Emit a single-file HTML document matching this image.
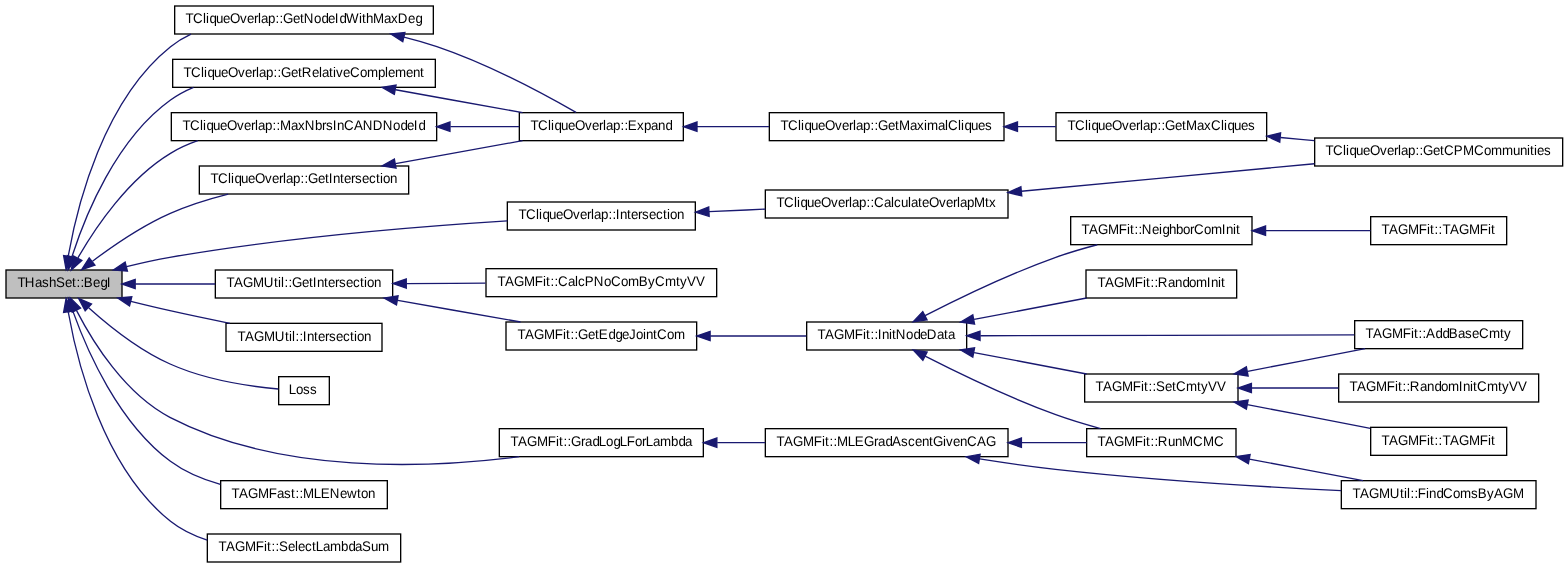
<!DOCTYPE html>
<html lang="en">
<head>
<meta charset="utf-8">
<title>THashSet::BegI</title>
<style>
html,body{margin:0;padding:0;background:#fff;}
body{width:1568px;height:568px;overflow:hidden;}
svg{display:block;will-change:transform;}
svg text{font-family:"Liberation Sans",sans-serif;font-size:10px;fill:#000;text-rendering:geometricPrecision;}
</style>
</head>
<body>
<svg width="1568" height="568" viewBox="0 0 1176 426">
<rect x="0" y="0" width="1176" height="426" fill="#ffffff"/>
<g transform="translate(4 422)">
<rect x="0.5" y="-219.5" width="87" height="21" fill="#bfbfbf" stroke="#000" stroke-width="1"/>
<rect x="127" y="-417.5" width="194" height="21" fill="white" stroke="#000" stroke-width="1"/>
<path d="M47.22,-230.19C53.94,-267.96 73.49,-346.73 123.93,-387.00 128.60,-390.73 133.79,-393.82 139.27,-396.38" fill="none" stroke="#191970" stroke-width="1"/>
<polygon points="50.61,-229.19 45.57,-219.87 43.70,-230.30 50.61,-229.19" fill="#191970" stroke="#191970" stroke-width="1"/>
<rect x="125.5" y="-377.5" width="197" height="21" fill="white" stroke="#000" stroke-width="1"/>
<path d="M49.90,-229.31C59.76,-259.95 82.81,-317.52 123.90,-347.00 129.20,-350.80 135.04,-353.91 141.16,-356.47" fill="none" stroke="#191970" stroke-width="1"/>
<polygon points="53.23,-228.26 47.00,-219.69 46.53,-230.27 53.23,-228.26" fill="#191970" stroke="#191970" stroke-width="1"/>
<rect x="124.5" y="-337.5" width="199" height="21" fill="white" stroke="#000" stroke-width="1"/>
<path d="M54.44,-228.62C67.48,-251.26 92.07,-287.83 123.86,-307.00 130.20,-310.82 137.14,-313.93 144.32,-316.45" fill="none" stroke="#191970" stroke-width="1"/>
<polygon points="57.36,-226.67 49.48,-219.59 51.22,-230.04 57.36,-226.67" fill="#191970" stroke="#191970" stroke-width="1"/>
<rect x="145.5" y="-297.5" width="157" height="21" fill="white" stroke="#000" stroke-width="1"/>
<path d="M65.38,-226.09C80.78,-237.71 102.52,-252.62 123.72,-262.00 137.33,-268.02 152.66,-272.78 167.14,-276.45" fill="none" stroke="#191970" stroke-width="1"/>
<polygon points="67.21,-223.08 57.17,-219.69 62.91,-228.60 67.21,-223.08" fill="#191970" stroke="#191970" stroke-width="1"/>
<rect x="376.5" y="-270.5" width="141" height="21" fill="white" stroke="#000" stroke-width="1"/>
<path d="M90.93,-222.05C101.53,-224.66 112.79,-227.17 123.38,-229.00 209.91,-243.99 310.85,-252.22 376.50,-256.37" fill="none" stroke="#191970" stroke-width="1"/>
<polygon points="91.58,-218.61 81.03,-219.53 89.85,-225.39 91.58,-218.61" fill="#191970" stroke="#191970" stroke-width="1"/>
<rect x="157.5" y="-219.5" width="133" height="21" fill="white" stroke="#000" stroke-width="1"/>
<path d="M97.44,-209.00C116.27,-209.00 137.64,-209.00 157.38,-209.00" fill="none" stroke="#191970" stroke-width="1"/>
<polygon points="97.39,-205.50 87.39,-209.00 97.39,-212.50 97.39,-205.50" fill="#191970" stroke="#191970" stroke-width="1"/>
<rect x="165.5" y="-179.5" width="117" height="21" fill="white" stroke="#000" stroke-width="1"/>
<path d="M94.14,-195.97C103.88,-193.56 113.99,-191.14 123.52,-189.00 138.03,-185.73 153.80,-182.46 168.43,-179.53" fill="none" stroke="#191970" stroke-width="1"/>
<polygon points="93.14,-192.61 84.30,-198.45 94.85,-199.40 93.14,-192.61" fill="#191970" stroke="#191970" stroke-width="1"/>
<rect x="205" y="-139.5" width="38" height="21" fill="white" stroke="#000" stroke-width="1"/>
<path d="M62.48,-191.25C77.66,-177.62 100.41,-159.41 123.58,-149.00 150.24,-137.01 184.18,-132.16 204.73,-130.23" fill="none" stroke="#191970" stroke-width="1"/>
<polygon points="59.86,-188.90 54.92,-198.27 64.63,-194.03 59.86,-188.90" fill="#191970" stroke="#191970" stroke-width="1"/>
<rect x="370.5" y="-100.5" width="153" height="21" fill="white" stroke="#000" stroke-width="1"/>
<path d="M53.34,-189.24C65.59,-165.46 89.70,-126.54 123.43,-109.00 206.19,-65.96 317.55,-70.81 385.46,-79.50" fill="none" stroke="#191970" stroke-width="1"/>
<polygon points="50.11,-187.88 48.85,-198.40 56.40,-190.96 50.11,-187.88" fill="#191970" stroke="#191970" stroke-width="1"/>
<rect x="161.5" y="-61.5" width="125" height="21" fill="white" stroke="#000" stroke-width="1"/>
<path d="M50.57,-188.83C61.07,-159.40 84.69,-105.04 123.82,-76.00 134.75,-67.89 148.02,-62.39 161.27,-58.67" fill="none" stroke="#191970" stroke-width="1"/>
<polygon points="47.21,-187.86 47.34,-198.45 53.84,-190.09 47.21,-187.86" fill="#191970" stroke="#191970" stroke-width="1"/>
<rect x="151.5" y="-21.5" width="145" height="21" fill="white" stroke="#000" stroke-width="1"/>
<path d="M47.22,-187.81C53.93,-150.04 73.46,-71.27 123.88,-31.00 131.92,-24.58 141.47,-20.05 151.43,-16.88" fill="none" stroke="#191970" stroke-width="1"/>
<polygon points="43.70,-187.70 45.57,-198.13 50.61,-188.81 43.70,-187.70" fill="#191970" stroke="#191970" stroke-width="1"/>
<rect x="385.5" y="-337.5" width="123" height="21" fill="white" stroke="#000" stroke-width="1"/>
<path d="M298.98,-394.14C307.39,-392.06 315.78,-389.68 323.67,-387.00 362.44,-373.84 404.70,-351.06 428.03,-337.68" fill="none" stroke="#191970" stroke-width="1"/>
<polygon points="298.08,-390.76 289.15,-396.47 299.69,-397.57 298.08,-390.76" fill="#191970" stroke="#191970" stroke-width="1"/>
<rect x="573" y="-337.5" width="176" height="21" fill="white" stroke="#000" stroke-width="1"/>
<path d="M518.76,-327C536.07,-327 554.8,-327 572.78,-327" fill="none" stroke="#191970" stroke-width="1"/>
<polygon points="518.75,-323.5 508.75,-327 518.75,-330.5 518.75,-323.5" fill="#191970" stroke="#191970" stroke-width="1"/>
<rect x="788" y="-337.5" width="158" height="21" fill="white" stroke="#000" stroke-width="1"/>
<path d="M759.12,-327C768.77,-327 778.48,-327 787.89,-327" fill="none" stroke="#191970" stroke-width="1"/>
<polygon points="759.11,-323.5 749.11,-327 759.11,-330.5 759.11,-323.5" fill="#191970" stroke="#191970" stroke-width="1"/>
<rect x="982" y="-318.5" width="186" height="21" fill="white" stroke="#000" stroke-width="1"/>
<path d="M956.34,-318.85C964.74,-318.08 973.27,-317.29 981.71,-316.51" fill="none" stroke="#191970" stroke-width="1"/>
<polygon points="955.81,-315.39 946.17,-319.79 956.45,-322.36 955.81,-315.39" fill="#191970" stroke="#191970" stroke-width="1"/>
<path d="M292.65,-354.67C323.16,-349.17 358.72,-342.77 387.94,-337.51" fill="none" stroke="#191970" stroke-width="1"/>
<polygon points="291.78,-351.27 282.57,-356.49 293.03,-358.15 291.78,-351.27" fill="#191970" stroke="#191970" stroke-width="1"/>
<path d="M333.80,-327.00C351.58,-327.00 369.39,-327.00 385.45,-327.00" fill="none" stroke="#191970" stroke-width="1"/>
<polygon points="333.49,-323.50 323.49,-327.00 333.49,-330.50 333.49,-323.50" fill="#191970" stroke="#191970" stroke-width="1"/>
<path d="M292.65,-299.33C323.16,-304.83 358.72,-311.23 387.94,-316.49" fill="none" stroke="#191970" stroke-width="1"/>
<polygon points="293.03,-295.85 282.57,-297.51 291.78,-302.73 293.03,-295.85" fill="#191970" stroke="#191970" stroke-width="1"/>
<rect x="570" y="-279.5" width="182" height="21" fill="white" stroke="#000" stroke-width="1"/>
<path d="M527.7,-263.27C541.7,-263.9 555.9,-264.5 570,-265.15" fill="none" stroke="#191970" stroke-width="1"/>
<polygon points="527.86,-259.77 517.7,-262.8 527.54,-266.77 527.86,-259.77" fill="#191970" stroke="#191970" stroke-width="1"/>
<path d="M762,-278.55C829,-284.9 917,-293.1 981.9,-299.2" fill="none" stroke="#191970" stroke-width="1"/>
<polygon points="762.33,-275.07 752,-277.6 761.67,-282.03 762.33,-275.07" fill="#191970" stroke="#191970" stroke-width="1"/>
<rect x="360.5" y="-220.5" width="173" height="21" fill="white" stroke="#000" stroke-width="1"/>
<path d="M300.77,-209.34C319.91,-209.43 340.55,-209.52 360.15,-209.61" fill="none" stroke="#191970" stroke-width="1"/>
<polygon points="300.72,-205.84 290.71,-209.3 300.69,-212.84 300.72,-205.84" fill="#191970" stroke="#191970" stroke-width="1"/>
<rect x="375.5" y="-180.5" width="143" height="21" fill="white" stroke="#000" stroke-width="1"/>
<path d="M294.33,-196.70C323.91,-191.50 358.00,-185.51 386.38,-180.52" fill="none" stroke="#191970" stroke-width="1"/>
<polygon points="293.35,-193.31 284.11,-198.50 294.57,-200.21 293.35,-193.31" fill="#191970" stroke="#191970" stroke-width="1"/>
<rect x="601" y="-180.5" width="120" height="21" fill="white" stroke="#000" stroke-width="1"/>
<path d="M528.72,-170C552.64,-170 578.38,-170 600.68,-170" fill="none" stroke="#191970" stroke-width="1"/>
<polygon points="528.59,-166.5 518.59,-170 528.59,-173.5 528.59,-166.5" fill="#191970" stroke="#191970" stroke-width="1"/>
<rect x="799" y="-259.5" width="136" height="21" fill="white" stroke="#000" stroke-width="1"/>
<path d="M689.81,-185.26C715.09,-198.22 753.16,-216.63 787.83,-229.00 797.75,-232.54 808.59,-235.72 818.96,-238.45" fill="none" stroke="#191970" stroke-width="1"/>
<polygon points="691.33,-182.10 680.84,-180.58 688.09,-188.31 691.33,-182.10" fill="#191970" stroke="#191970" stroke-width="1"/>
<rect x="810.5" y="-219.5" width="113" height="21" fill="white" stroke="#000" stroke-width="1"/>
<path d="M726.58,-182.44C753.75,-187.61 784.96,-193.53 810.97,-198.48" fill="none" stroke="#191970" stroke-width="1"/>
<polygon points="726.92,-178.94 716.44,-180.50 725.60,-185.82 726.92,-178.94" fill="#191970" stroke="#191970" stroke-width="1"/>
<rect x="1012" y="-181.5" width="126" height="21" fill="white" stroke="#000" stroke-width="1"/>
<path d="M731.29,-170.17C809.71,-170.36 936.31,-170.67 1011.71,-170.85" fill="none" stroke="#191970" stroke-width="1"/>
<polygon points="731.04,-166.67 721.03,-170.14 731.02,-173.67 731.04,-166.67" fill="#191970" stroke="#191970" stroke-width="1"/>
<rect x="809.5" y="-141.5" width="115" height="21" fill="white" stroke="#000" stroke-width="1"/>
<path d="M726.58,-157.56C753.75,-152.39 784.96,-146.47 810.97,-141.52" fill="none" stroke="#191970" stroke-width="1"/>
<polygon points="725.60,-154.18 716.44,-159.50 726.92,-161.06 725.60,-154.18" fill="#191970" stroke="#191970" stroke-width="1"/>
<rect x="811" y="-100.5" width="112" height="21" fill="white" stroke="#000" stroke-width="1"/>
<path d="M689.85,-154.85C715.15,-141.95 753.22,-123.57 787.81,-111.00 798.54,-107.10 810.34,-103.57 821.44,-100.56" fill="none" stroke="#191970" stroke-width="1"/>
<polygon points="688.14,-151.79 680.87,-159.50 691.36,-158.01 688.14,-151.79" fill="#191970" stroke="#191970" stroke-width="1"/>
<rect x="1024" y="-259.5" width="102" height="21" fill="white" stroke="#000" stroke-width="1"/>
<path d="M945.48,-249C971.74,-249 1000.35,-249 1023.91,-249" fill="none" stroke="#191970" stroke-width="1"/>
<polygon points="945.17,-245.5 935.17,-249 945.17,-252.5 945.17,-245.5" fill="#191970" stroke="#191970" stroke-width="1"/>
<path d="M931.76,-143.48C960.05,-148.94 992.87,-155.28 1019.88,-160.49" fill="none" stroke="#191970" stroke-width="1"/>
<polygon points="932.11,-139.98 921.62,-141.51 930.77,-146.85 932.11,-139.98" fill="#191970" stroke="#191970" stroke-width="1"/>
<rect x="1000" y="-141.5" width="150" height="21" fill="white" stroke="#000" stroke-width="1"/>
<path d="M934.58,-131C955.39,-131 978.49,-131 999.79,-131" fill="none" stroke="#191970" stroke-width="1"/>
<polygon points="934.56,-127.5 924.56,-131 934.56,-134.5 934.56,-127.5" fill="#191970" stroke="#191970" stroke-width="1"/>
<rect x="1024" y="-101.5" width="102" height="21" fill="white" stroke="#000" stroke-width="1"/>
<path d="M931.44,-118.58C961.17,-112.84 995.97,-106.12 1023.77,-100.75" fill="none" stroke="#191970" stroke-width="1"/>
<polygon points="930.77,-115.15 921.62,-120.49 932.11,-122.02 930.77,-115.15" fill="#191970" stroke="#191970" stroke-width="1"/>
<rect x="1002" y="-61.5" width="146" height="21" fill="white" stroke="#000" stroke-width="1"/>
<path d="M932.99,-77.68C960.40,-72.49 991.97,-66.52 1018.29,-61.55" fill="none" stroke="#191970" stroke-width="1"/>
<polygon points="932.28,-74.25 923.10,-79.55 933.58,-81.13 932.28,-74.25" fill="#191970" stroke="#191970" stroke-width="1"/>
<rect x="570" y="-100.5" width="182" height="21" fill="white" stroke="#000" stroke-width="1"/>
<path d="M533.94,-90C545.79,-90 557.98,-90 569.9,-90" fill="none" stroke="#191970" stroke-width="1"/>
<polygon points="533.64,-86.5 523.64,-90 533.64,-93.5 533.64,-86.5" fill="#191970" stroke="#191970" stroke-width="1"/>
<path d="M762.46,-90C779.17,-90 795.95,-90 810.98,-90" fill="none" stroke="#191970" stroke-width="1"/>
<polygon points="762.07,-86.5 752.07,-90 762.07,-93.5 762.07,-86.5" fill="#191970" stroke="#191970" stroke-width="1"/>
<path d="M730.70,-77.85C749.14,-74.94 769.09,-72.08 787.61,-70.00 860.31,-61.85 943.81,-56.80 1001.85,-53.97" fill="none" stroke="#191970" stroke-width="1"/>
<polygon points="729.96,-74.43 720.64,-79.47 731.07,-81.34 729.96,-74.43" fill="#191970" stroke="#191970" stroke-width="1"/>
</g>
<g transform="translate(4 422) scale(1 1.045)">
<text x="9.125 14.562 22.25 27.5 32.75 38 44.75 50 53.375 56.375 58.812 65.75 71.375 76.062" y="-197.847">THashSet::BegI</text>
<text x="135.125 140.75 148.25 150.5 153.125 158 163.25 168.5 176 181.25 186.5 189.5 191.75 197 202.625 205.625 208.25 215.75 221 223.812 231.5 237.125 242 247.062 250.625 255.5 265.25 267.5 270.5 275.75 284 289.25 294.312 302 307.625" y="-387.321">TCliqueOverlap::GetNodeIdWithMaxDeg</text>
<text x="133.625 139.25 146.75 149 151.625 156.5 161.75 167 174.5 179.75 185 188 190.25 195.5 201.125 204.125 206.75 214.25 219.5 222.312 230 235.25 237.5 242.75 245.75 248 253.25 258.5 266 271.25 279.5 284.75 287 292.25 300.5 305.75 311" y="-348.565">TCliqueOverlap::GetRelativeComplement</text>
<text x="132.875 138.5 146 148.25 150.875 155.75 161 166.25 173.75 179 184.25 187.25 189.5 194.75 200.375 203.375 206 214.25 219.5 224.562 232.25 237.5 240.5 245.562 248.75 254 261.5 268.062 275.562 283.062 290.75 296.375 301.25 306.312 309.875" y="-310.526">TCliqueOverlap::MaxNbrsInCANDNodeId</text>
<text x="153.875 159.5 167 169.25 171.875 176.75 182 187.25 194.75 200 205.25 208.25 210.5 215.75 221.375 224.375 227 234.5 239.75 242.562 245.75 251 254 259.25 262.25 267.5 272.75 278 281 283.25 288.5" y="-272.488">TCliqueOverlap::GetIntersection</text>
<text x="384.875 390.5 398 400.25 402.875 407.75 413 418.25 425.75 431 436.25 439.25 441.5 446.75 452.375 455.375 457.812 461 466.25 469.25 474.5 477.5 482.75 488 493.25 496.25 498.5 503.75" y="-246.651">TCliqueOverlap::Intersection</text>
<text x="165.875 171.5 178.25 185.75 193.812 201.5 204.5 206.75 209.375 212.375 215 222.5 227.75 230.562 233.75 239 242 247.25 250.25 255.5 260.75 266 269 271.25 276.5" y="-197.847">TAGMUtil::GetIntersection</text>
<text x="174.125 179.75 186.5 194 202.062 209.75 212.75 215 217.625 220.625 223.062 226.25 231.5 234.5 239.75 242.75 248 253.25 258.5 261.5 263.75 269" y="-159.091">TAGMUtil::Intersection</text>
<text x="212.562 218 223.25 228.5" y="-121.053">Loss</text>
<text x="378.875 384.5 391.25 398.75 406.812 413 415.25 418.625 421.625 424.25 431.75 434.75 440.375 445.062 450.5 456.125 460.812 466.062 472.25 477.5 480.312 485.75 491 499.25 504.875 509.75" y="-83.732">TAGMFit::GradLogLForLambda</text>
<text x="169.625 175.25 182 189.5 197.562 203.75 209 214.25 217.625 220.625 223.25 231.312 236.562 243.312 251 256.25 263.75 266.75 272" y="-46.411">TAGMFast::MLENewton</text>
<text x="159.875 165.5 172.25 179.75 187.812 194 196.25 199.625 202.625 205.25 212 217.25 219.5 224.75 230 232.812 238.25 243.5 251.75 257.375 262.25 267.5 274.25 279.5" y="-8.373">TAGMFit::SelectLambdaSum</text>
<text x="393.875 399.5 407 409.25 411.875 416.75 422 427.25 434.75 440 445.25 448.25 450.5 455.75 461.375 464.375 466.812 473.75 479 484.25 489.5 495.125" y="-310.526">TCliqueOverlap::Expand</text>
<text x="581.375 587 594.5 596.75 599.375 604.25 609.5 614.75 622.25 627.5 632.75 635.75 638 643.25 648.875 651.875 654.5 662 667.25 670.25 678.5 683.75 689 691.25 699.5 704.75 707 714.5 716.75 719.375 724.25 729.5 734.75" y="-310.526">TCliqueOverlap::GetMaximalCliques</text>
<text x="796.625 802.25 809.75 812 814.625 819.5 824.75 830 837.5 842.75 848 851 853.25 858.5 864.125 867.125 869.75 877.25 882.5 885.5 893.75 899 904.25 911.75 914 916.625 921.5 926.75 932" y="-310.526">TCliqueOverlap::GetMaxCliques</text>
<text x="990.125 995.75 1003.25 1005.5 1008.125 1013 1018.25 1023.5 1031 1036.25 1041.5 1044.5 1046.75 1052 1057.625 1060.625 1063.25 1070.75 1076 1079 1086.312 1093.25 1101.5 1109 1114.25 1122.5 1130.75 1136 1141.25 1143.5 1146.5 1148.75 1154" y="-292.584">TCliqueOverlap::GetCPMCommunities</text>
<text x="578.375 584 591.5 593.75 596.375 601.25 606.5 611.75 619.25 624.5 629.75 632.75 635 640.25 645.875 648.875 651.5 659 664.25 666.5 671.75 677 679.25 684.5 687.5 692.75 700.25 705.5 710.75 713.75 716 721.25 726.5 734.75 737.75" y="-255.263">TCliqueOverlap::CalculateOverlapMtx</text>
<text x="369.125 374.75 381.5 389 397.062 403.25 405.5 408.875 411.875 414.5 422 427.25 429.5 434.562 441.312 449 454.25 461.75 467 475.062 482 487.25 494.75 503 506 511.25 518" y="-198.565">TAGMFit::CalcPNoComByCmtyVV</text>
<text x="384.125 389.75 396.5 404 412.062 418.25 420.5 423.875 426.875 429.5 437 442.25 445.062 452.375 457.625 462.5 467.75 473 478.25 480.5 485.75 488.75 496.25 501.5" y="-160.526">TAGMFit::GetEdgeJointCom</text>
<text x="609.125 614.75 621.5 629 637.062 643.25 645.5 648.875 651.875 654.312 657.5 662.75 665 667.812 675.5 681.125 686 691.062 698.75 704 707" y="-160.526">TAGMFit::InitNodeData</text>
<text x="807.125 812.75 819.5 827 835.062 841.25 843.5 846.875 849.875 852.312 860 865.25 867.875 872.75 878 883.25 888.5 891.5 899 904.25 912.312 915.5 920.75 923" y="-235.885">TAGMFit::NeighborComInit</text>
<text x="819.125 824.75 831.5 839 847.062 853.25 855.5 858.875 861.875 864.312 872 877.25 882.875 887.75 893 901.062 904.25 909.5 911.75" y="-197.847">TAGMFit::RandomInit</text>
<text x="1020.125 1025.75 1032.5 1040 1048.062 1054.25 1056.5 1059.875 1062.875 1065.5 1072.625 1077.875 1082.562 1089.5 1094.75 1100 1105.25 1112.75 1121 1124" y="-161.244">TAGMFit::AddBaseCmty</text>
<text x="817.625 823.25 830 837.5 845.562 851.75 854 857.375 860.375 863 869.75 875 878 885.5 893.75 896.75 902 908.75" y="-123.206">TAGMFit::SetCmtyVV</text>
<text x="819.125 824.75 831.5 839 847.062 853.25 855.5 858.875 861.875 864.312 872 877.25 882.5 890.75 898.25 906.5" y="-83.732">TAGMFit::RunMCMC</text>
<text x="1032.125 1037.75 1044.5 1052 1060.062 1066.25 1068.5 1071.875 1074.875 1077.875 1083.5 1090.25 1097.75 1105.812 1112 1114.25" y="-235.885">TAGMFit::TAGMFit</text>
<text x="1008.125 1013.75 1020.5 1028 1036.062 1042.25 1044.5 1047.875 1050.875 1053.312 1061 1066.25 1071.875 1076.75 1082 1090.062 1093.25 1098.5 1100.75 1103.75 1111.25 1119.5 1122.5 1127.75 1134.5" y="-123.206">TAGMFit::RandomInitCmtyVV</text>
<text x="1032.125 1037.75 1044.5 1052 1060.062 1066.25 1068.5 1071.875 1074.875 1077.875 1083.5 1090.25 1097.75 1105.812 1112 1114.25" y="-84.45">TAGMFit::TAGMFit</text>
<text x="1010.375 1016 1022.75 1030.25 1038.312 1046 1049 1051.25 1053.875 1056.875 1059.312 1065.5 1067.75 1073.375 1078.25 1085.75 1091 1099.25 1104.312 1111.25 1116.5 1123.25 1130.75" y="-46.411">TAGMUtil::FindComsByAGM</text>
<text x="578.375 584 590.75 598.25 606.312 612.5 614.75 618.125 621.125 623.75 631.812 637.062 644 651.5 654.5 660.125 665 671.75 677 682.25 687.5 692.75 695.75 703.25 705.5 710.75 716 721.25 728.75 735.5" y="-83.732">TAGMFit::MLEGradAscentGivenCAG</text>
</g>
</svg>
</body>
</html>
